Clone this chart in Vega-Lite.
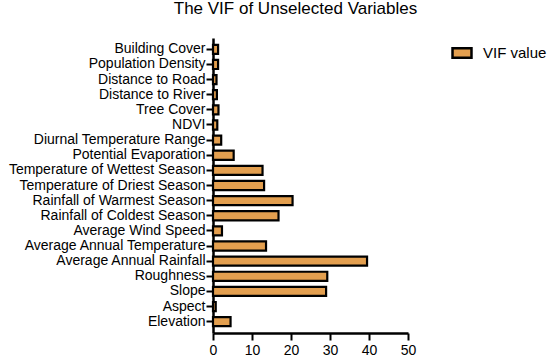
{
  "$schema": "https://vega.github.io/schema/vega-lite/v6.json",
  "width": 195,
  "height": 295,
  "autosize": {"type": "none"},
  "padding": {"left": 213, "top": 38, "right": 142, "bottom": 28},
  "background": "white",
  "title": {"text": "The VIF of Unselected Variables", "font": "Liberation Sans", "fontSize": 17, "fontWeight": "normal", "color": "black", "anchor": "middle", "dx": -15, "offset": 20},
  "data": {"values": [
    {"variable": "Building Cover", "vif": 1.3, "series": "VIF value"},
    {"variable": "Population Density", "vif": 1.3, "series": "VIF value"},
    {"variable": "Distance to Road", "vif": 0.9, "series": "VIF value"},
    {"variable": "Distance to River", "vif": 1.0, "series": "VIF value"},
    {"variable": "Tree Cover", "vif": 1.4, "series": "VIF value"},
    {"variable": "NDVI", "vif": 1.1, "series": "VIF value"},
    {"variable": "Diurnal Temperature Range", "vif": 2.1, "series": "VIF value"},
    {"variable": "Potential Evaporation", "vif": 5.3, "series": "VIF value"},
    {"variable": "Temperature of Wettest Season", "vif": 12.7, "series": "VIF value"},
    {"variable": "Temperature of Driest Season", "vif": 13.1, "series": "VIF value"},
    {"variable": "Rainfall of Warmest Season", "vif": 20.4, "series": "VIF value"},
    {"variable": "Rainfall of Coldest Season", "vif": 16.8, "series": "VIF value"},
    {"variable": "Average Wind Speed", "vif": 2.3, "series": "VIF value"},
    {"variable": "Average Annual Temperature", "vif": 13.6, "series": "VIF value"},
    {"variable": "Average Annual Rainfall", "vif": 39.5, "series": "VIF value"},
    {"variable": "Roughness", "vif": 29.3, "series": "VIF value"},
    {"variable": "Slope", "vif": 29.0, "series": "VIF value"},
    {"variable": "Aspect", "vif": 0.7, "series": "VIF value"},
    {"variable": "Elevation", "vif": 4.5, "series": "VIF value"}
  ]},
  "mark": {"type": "bar", "stroke": "black", "strokeWidth": 2.2},
  "encoding": {
    "y": {
      "field": "variable", "type": "nominal", "sort": null,
      "scale": {"paddingInner": 0.4, "paddingOuter": 0.45},
      "axis": {"title": null, "labelFont": "Liberation Sans", "labelFontSize": 14, "labelLimit": 300, "labelColor": "black", "labelPadding": 1, "domainColor": "black", "domainWidth": 2.5, "tickColor": "black", "tickWidth": 2, "tickSize": 7, "grid": false}
    },
    "x": {
      "field": "vif", "type": "quantitative",
      "scale": {"domain": [0, 50], "nice": false},
      "axis": {"title": null, "values": [0, 10, 20, 30, 40, 50], "labelFont": "Liberation Sans", "labelFontSize": 14, "labelColor": "black", "labelPadding": 3, "domainColor": "black", "domainWidth": 2.5, "tickColor": "black", "tickWidth": 2, "tickSize": 7, "grid": false, "labelFlush": false}
    },
    "fill": {
      "field": "series", "type": "nominal",
      "scale": {"range": ["#E39F4F"]},
      "legend": {"title": null, "orient": "none", "legendX": 238, "legendY": 4, "labelFont": "Liberation Sans", "labelFontSize": 15, "labelColor": "black", "symbolType": "M-1,-0.5H1V0.5H-1Z", "symbolSize": 360, "symbolStrokeColor": "black", "symbolStrokeWidth": 2.5, "labelOffset": 10}
    }
  },
  "config": {"view": {"stroke": null}}
}
